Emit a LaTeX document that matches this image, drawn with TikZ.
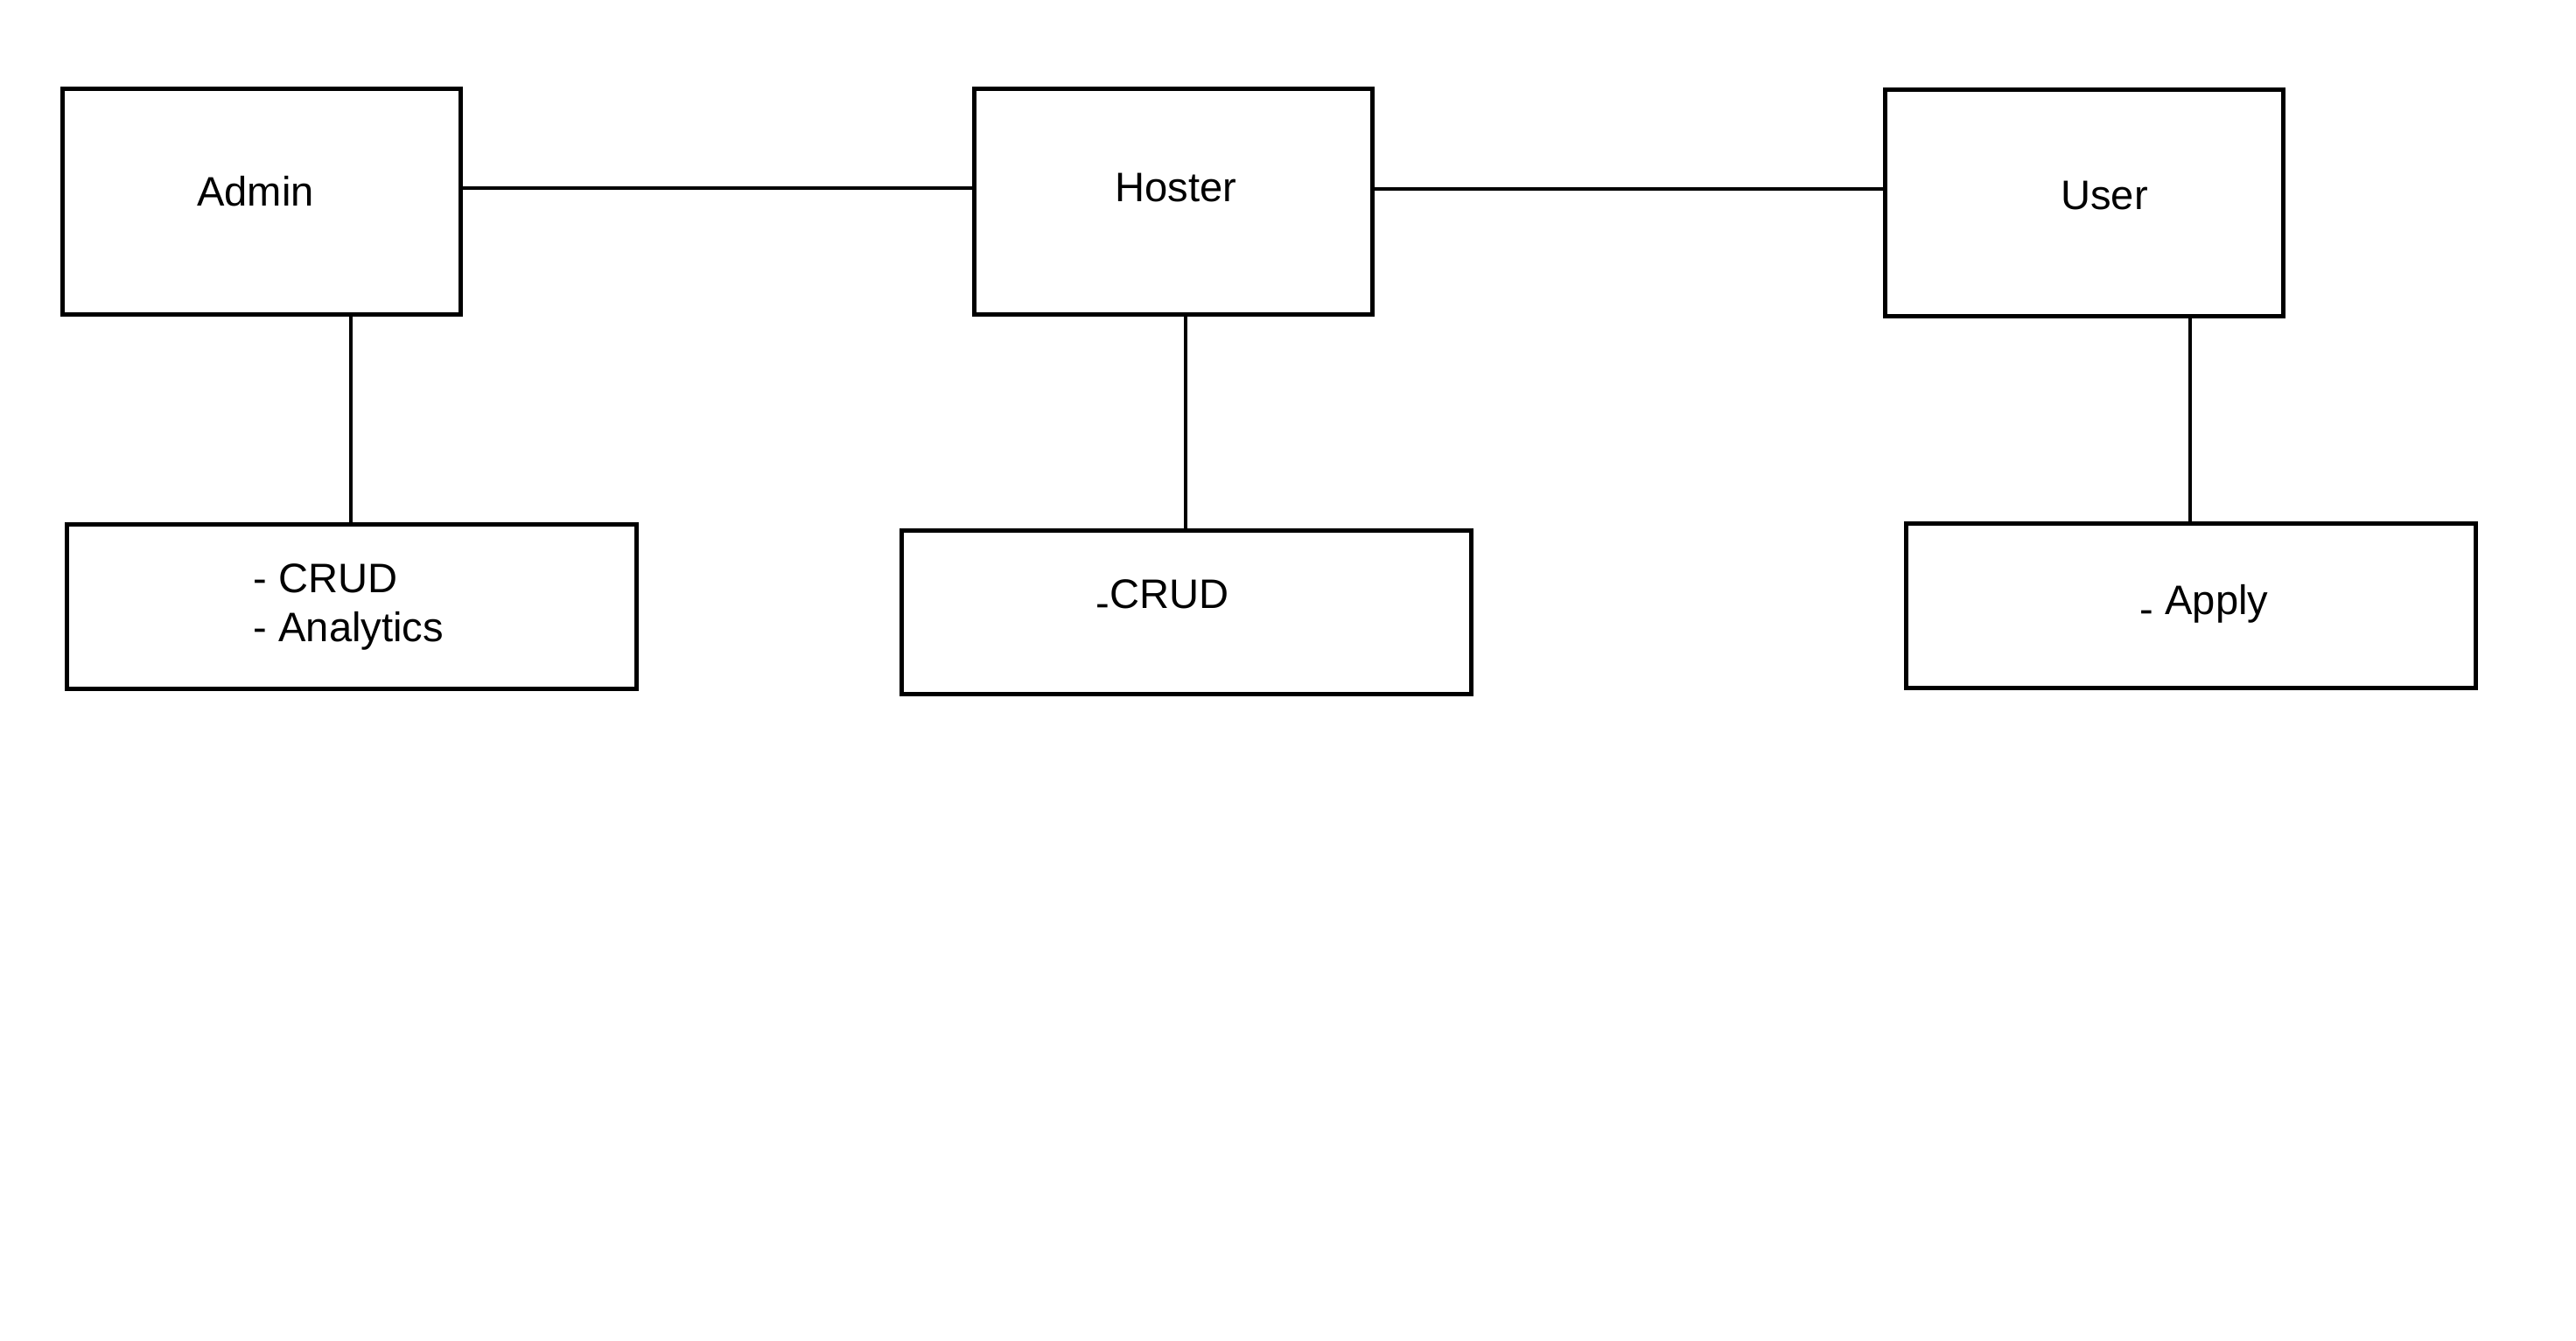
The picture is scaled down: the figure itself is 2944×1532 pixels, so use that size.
\documentclass[tikz,border=0pt]{standalone}
\usepackage{fontspec}
\setmainfont{Liberation Sans}
\begin{document}
\begin{tikzpicture}[x=0.01cm,y=-0.01cm,
  box/.style={draw, line width=0.05cm, anchor=north west, inner sep=0pt, minimum width=#1},
  top/.style={box=455*0.01cm, minimum height=258*0.01cm},
  bot/.style={box=651*0.01cm, minimum height=188*0.01cm},
  lbl/.style={anchor=base west, inner sep=0pt, align=left, font=\fontsize{13.4pt}{15.65pt}\selectfont},
  conn/.style={line width=0.048cm}]
\useasboundingbox (0,0) rectangle (2944,1532);
% top boxes
\node[top] (admin) at (68.5,99) {};
\node[top] (hoster) at (1111,99) {};
\node[top, minimum height=259*0.01cm] (user) at (2152,100) {};
% bottom boxes
\node[bot] (adminf) at (74,597) {};
\node[bot, minimum height=187*0.01cm] (hosterf) at (1028,604) {};
\node[bot] (userf) at (2176,596) {};
% texts
\node[lbl] (tadmin) at (224.5,235.5) {Admin};
\node[lbl] (thoster) at (1274,230.6) {Hoster};
\node[lbl] (tuser) at (2354.6,239) {User};
\node[lbl] (tadminf) at (289,733) {- CRUD\\- Analytics};
\node[lbl] (thosterf) at (1252,695) {\raisebox{-0.23em}{-}CRUD};
\node[lbl] (tuserf) at (2445,702) {\raisebox{-0.23em}{-} Apply};
% connectors
\draw[conn] (admin.east |- 0,215) -- (hoster.west |- 0,215);
\draw[conn] (hoster.east |- 0,216) -- (user.west |- 0,216);
\draw[conn] (admin.south -| 401,0) -- (adminf.north -| 401,0);
\draw[conn] (hoster.south -| 1355,0) -- (hosterf.north -| 1355,0);
\draw[conn] (user.south -| 2503,0) -- (userf.north -| 2503,0);
\end{tikzpicture}
\end{document}
